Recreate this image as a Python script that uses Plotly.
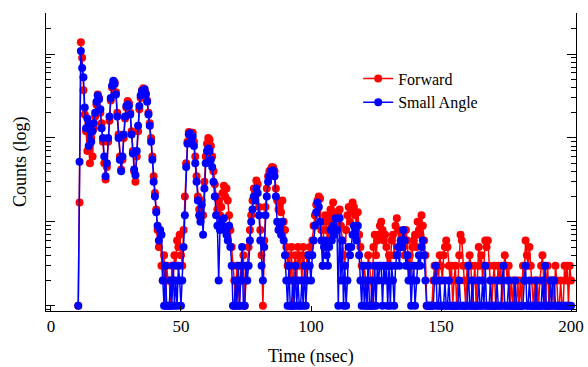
import plotly.graph_objects as go

# time bins (ns): start and step of the histogram
t_start = 10.5
t_step = 0.5

forward = [
    1, 17, 1380, 900, 370, 190, 120, 70, 150, 50,
    100, 60, 130, 180, 250, 330, 300, 200, 150, 90,
    50, 32, 45, 90, 160, 280, 400, 470, 460, 350,
    200, 110, 60, 42, 55, 100, 170, 230, 275, 260,
    200, 120, 70, 40, 30, 60, 120, 220, 300, 370,
    390, 380, 340, 280, 200, 150, 100, 60, 35, 22,
    14, 8, 5, 7, 3, 2, 4, 1, 3, 2,
    2, 1, 3, 2, 4, 3, 6, 5, 7, 4,
    3, 8, 20, 50, 90, 118, 110, 100, 115, 90,
    60, 35, 20, 14, 11, 18, 12, 30, 60, 85,
    100, 95, 80, 60, 40, 28, 20, 14, 18, 12,
    15, 22, 27, 20, 25, 18, 12, 8, 5, 3,
    2, 1, 3, 2, 1, 3, 2, 4, 1, 2,
    3, 5, 8, 12, 18, 25, 22, 31, 28, 15,
    8, 4, 1, 6, 15, 25, 35, 40, 42, 45,
    44, 40, 25, 18, 14, 16, 13, 18, 10, 8,
    5, 3, 4, 2, 5, 1, 3, 4, 2, 5,
    3, 4, 2, 5, 3, 2, 4, 3, 5, 4,
    6, 9, 12, 16, 18, 20, 19, 8, 3, 10,
    12, 8, 5, 10, 14, 12, 17, 13, 10, 8,
    12, 14, 9, 6, 4, 3, 8, 12, 15, 10,
    14, 17, 15, 12, 9, 13, 7, 5, 3, 2,
    3, 2, 1, 4, 3, 2, 1, 5, 7, 4,
    6, 7, 9, 10, 8, 6, 7, 5, 3, 4,
    3, 6, 7, 4, 9, 11, 8, 5, 6, 7,
    5, 4, 8, 6, 3, 4, 2, 5, 6, 7,
    5, 10, 8, 7, 12, 9, 6, 4, 1, 1,
    1, 1, 1, 2, 3, 2, 3, 2, 4, 3,
    2, 4, 5, 6, 5, 3, 2, 3, 1, 2,
    3, 1, 2, 4, 7, 6, 3, 2, 1, 3,
    2, 4, 3, 1, 2, 3, 1, 2, 5, 3,
    4, 2, 3, 6, 5, 6, 3, 2, 1, 2,
    3, 1, 2, 3, 2, 3, 1, 2, 4, 3,
    2, 3, 1, 2, 1, 2, 1, 1, 2, 1,
    2, 1, 3, 2, 6, 4, 3, 5, 3, 2,
    1, 2, 1, 2, 1, 2, 3, 4, 2, 1,
    2, 3, 1, 2, 1, 2, 1, 3, 2, 1,
    1, 2, 1, 1, 3, 2, 3, 1, 3, 2,
]

small_angle = [
    1, 52, 1090, 680, 530, 230, 130, 170, 80, 140,
    90, 120, 150, 200, 270, 320, 290, 220, 130, 100,
    60, 35, 50, 100, 180, 300, 420, 480, 440, 330,
    180, 100, 55, 40, 60, 110, 180, 240, 250, 240,
    190, 110, 65, 42, 36, 70, 140, 240, 320, 360,
    370, 380, 330, 270, 190, 140, 90, 55, 30, 20,
    13, 9, 6, 8, 7, 2, 1, 3, 1, 1,
    1, 2, 1, 3, 1, 2, 1, 3, 2, 1,
    2, 5, 12, 45, 85, 110, 114, 95, 105, 80,
    50, 30, 18, 12, 10, 16, 7, 25, 50, 70,
    75, 70, 55, 45, 30, 20, 12, 9, 2, 8,
    10, 9, 11, 8, 7, 6, 9, 5, 3, 1,
    1, 2, 1, 3, 1, 2, 5, 1, 1, 3,
    2, 3, 6, 10, 14, 20, 18, 25, 22, 12,
    6, 3, 2, 5, 12, 20, 30, 35, 40, 38,
    41, 35, 20, 10, 8, 9, 7, 10, 6, 4,
    2, 1, 3, 1, 1, 2, 1, 3, 1, 2,
    1, 1, 2, 1, 3, 1, 2, 4, 3, 2,
    4, 6, 9, 13, 17, 15, 10, 6, 3, 5,
    6, 4, 3, 5, 8, 6, 9, 7, 11, 8,
    1, 11, 2, 6, 1, 3, 1, 2, 5, 4,
    5, 7, 9, 8, 6, 9, 4, 2, 1, 3,
    1, 2, 1, 3, 1, 1, 2, 1, 3, 1,
    3, 2, 3, 3, 1, 3, 2, 3, 1, 3,
    1, 3, 2, 1, 3, 4, 5, 3, 6, 5,
    8, 6, 3, 4, 2, 3, 1, 2, 3, 1,
    2, 3, 4, 3, 5, 6, 4, 2, 1, 1,
    1, 1, 1, 1, 2, 3, 1, 1, 2, 1,
    1, 1, 2, 1, 1, 2, 1, 1, 1, 1,
    1, 1, 1, 2, 1, 1, 1, 1, 1, 1,
    3, 1, 1, 2, 1, 1, 1, 1, 2, 1,
    1, 2, 1, 3, 1, 1, 1, 2, 1, 1,
    1, 1, 2, 1, 1, 1, 2, 3, 1, 1,
    1, 2, 1, 1, 1, 1, 2, 1, 1, 1,
    1, 1, 1, 2, 3, 1, 1, 2, 1, 1,
    1, 1, 2, 1, 1, 1, 1, 2, 1, 3,
    1, 1, 1, 2, 1, 2, 2, 1, 1, 1,
    1, 1, 1, 1, 1, 1, 1, 1, 1, 1,
]

time_ns = [t_start + t_step * i for i in range(len(forward))]

x_ticks = [0, 50, 100, 150, 200]
x_ticktext = ["0", "50", "100", "150", "200"]
y_major = [1, 10, 100, 1000]
x_title = "Time (nsec)"
y_title = "Counts (log)"

FONT = "Liberation Serif, Times New Roman, serif"

fig = go.Figure()
fig.add_trace(go.Scatter(
    x=time_ns, y=forward, name="Forward", mode="lines+markers",
    line=dict(color="#ff0000", width=1.5),
    marker=dict(color="#ff0000", size=8),
))
fig.add_trace(go.Scatter(
    x=time_ns, y=small_angle, name="Small Angle", mode="lines+markers",
    line=dict(color="#0000ff", width=1.5),
    marker=dict(color="#0000ff", size=8),
))

fig.update_layout(
    width=588, height=367,
    margin=dict(l=46, r=12, t=13, b=56, autoexpand=False),
    paper_bgcolor="white", plot_bgcolor="white",
    font=dict(family=FONT, size=17, color="black"),
    showlegend=True,
    legend=dict(
        x=0.589, y=0.74, xanchor="left", yanchor="middle",
        bgcolor="rgba(0,0,0,0)", font=dict(family=FONT, size=16),
        tracegroupgap=0, itemwidth=30,
    ),
    xaxis=dict(
        range=[-1.9, 201.9], tickvals=x_ticks, ticktext=x_ticktext,
        ticks="inside", ticklen=5, tickcolor="black", tickwidth=1,
        showline=True, linecolor="black", linewidth=1, mirror=False,
        showgrid=False, zeroline=False, automargin=False,
        tickfont=dict(family=FONT, size=17),
    ),
    yaxis=dict(
        type="log", range=[-0.063, 3.489], tickvals=y_major,
        showticklabels=False,
        ticks="inside", ticklen=9, tickcolor="black", tickwidth=1,
        minor=dict(ticks="inside", ticklen=5, tickcolor="black", dtick="D1", showgrid=False),
        showline=True, linecolor="black", linewidth=1, mirror="ticks",
        showgrid=False, zeroline=False, automargin=False,
    ),
    annotations=[
        dict(text=x_title, xref="paper", yref="paper", x=0.5, y=-0.154,
             xanchor="center", yanchor="middle", showarrow=False,
             font=dict(family=FONT, size=18)),
        dict(text=y_title, xref="paper", yref="paper", x=-0.049, y=0.5,
             xanchor="center", yanchor="middle", showarrow=False, textangle=-90,
             font=dict(family=FONT, size=18)),
    ],
)

fig.write_html(
    "out.html",
    config={"displayModeBar": False},
    post_script="document.body.style.margin='0';document.body.style.padding='0';",
)
